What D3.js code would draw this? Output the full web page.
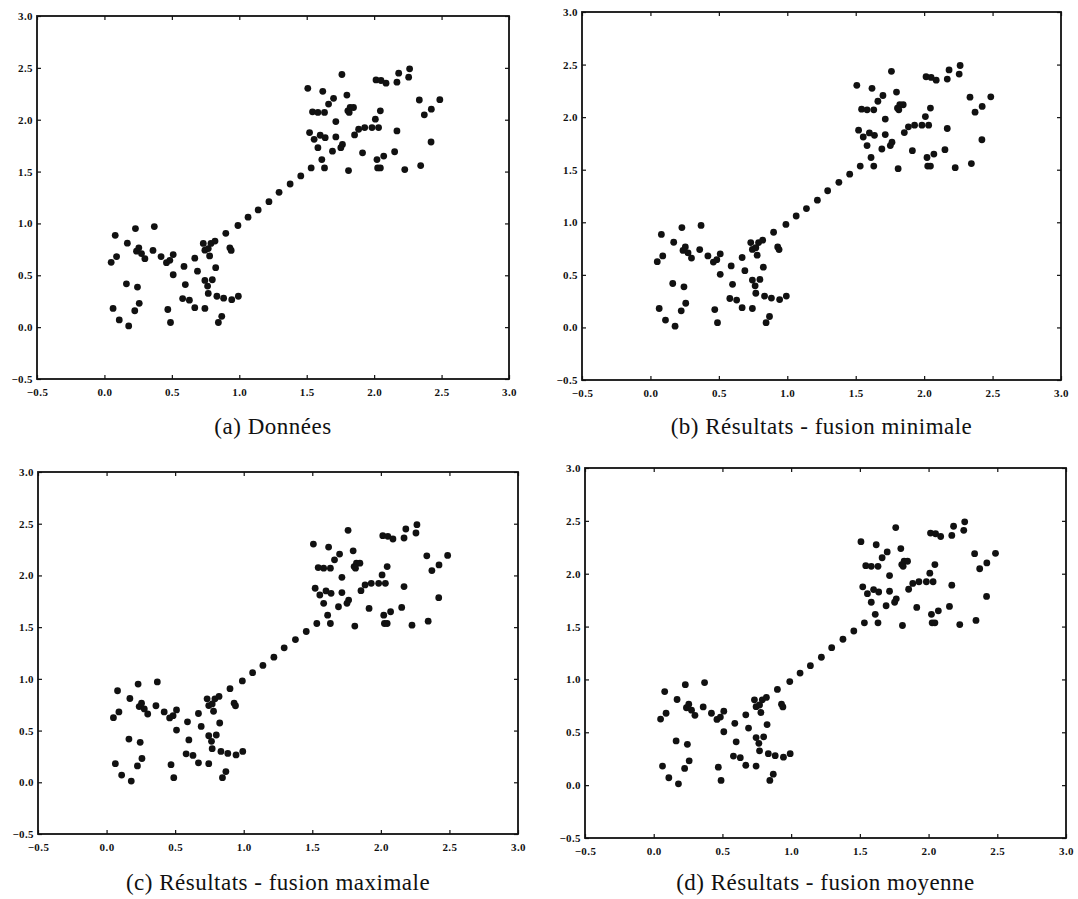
<!DOCTYPE html>
<html>
<head>
<meta charset="utf-8">
<script src="https://cdn.jsdelivr.net/npm/d3@7/dist/d3.min.js"></script>
<style>
  body { margin: 0; background: #fff; }
  svg { display: block; }
</style>
</head>
<body>
<svg id="fig" width="1078" height="899"></svg>
<script>
// lower-left blob
const clusterLow = [
  [0.05,0.625],[0.09,0.68],[0.08,0.885],[0.17,0.81],[0.23,0.95],[0.37,0.97],
  [0.238,0.732],[0.255,0.765],[0.275,0.709],[0.30,0.66],[0.36,0.74],[0.42,0.68],
  [0.46,0.622],[0.485,0.644],[0.51,0.70],[0.51,0.505],[0.59,0.585],[0.60,0.41],
  [0.58,0.275],[0.63,0.26],[0.67,0.665],[0.69,0.54],[0.67,0.188],[0.745,0.18],
  [0.733,0.807],[0.745,0.742],[0.77,0.758],[0.79,0.807],[0.82,0.83],[0.78,0.687],
  [0.745,0.45],[0.765,0.396],[0.80,0.457],[0.77,0.325],[0.825,0.573],[0.834,0.298],
  [0.884,0.279],[0.845,0.045],[0.87,0.104],[0.93,0.765],[0.94,0.74],[0.944,0.265],
  [0.993,0.298],[0.163,0.418],[0.245,0.386],[0.258,0.23],[0.225,0.158],[0.064,0.18],
  [0.11,0.07],[0.18,0.012],[0.47,0.17],[0.49,0.045]
];
// the chain of points joining the two blobs
const bridge = [
  [0.90,0.905],[0.99,0.98],[1.065,1.06],[1.14,1.13],[1.22,1.21],
  [1.295,1.30],[1.377,1.38],[1.456,1.458]
];
// upper-right blob
const clusterHigh = [
  [1.508,2.303],[1.761,2.436],[1.619,2.274],[1.699,2.206],[1.662,2.151],[1.798,2.238],
  [1.543,2.076],[1.583,2.07],[1.632,2.07],[1.716,1.982],[1.805,2.086],[1.822,2.118],
  [1.847,2.118],[1.815,2.07],[2.014,2.384],[2.051,2.378],[2.088,2.352],[2.169,2.362],
  [2.182,2.449],[2.256,2.41],[2.263,2.491],[2.335,2.19],[2.487,2.193],[2.372,2.047],
  [2.424,2.102],[2.009,2.005],[2.046,2.086],[1.521,1.876],[1.555,1.811],[1.60,1.85],
  [1.637,1.827],[1.583,1.73],[1.716,1.834],[1.765,1.762],[1.753,1.73],[1.691,1.697],
  [1.612,1.616],[1.533,1.535],[1.632,1.535],[1.81,1.51],[1.855,1.853],[1.885,1.908],
  [1.93,1.924],[1.984,1.924],[2.033,1.924],[1.914,1.681],[2.021,1.616],[2.071,1.649],
  [2.026,1.535],[2.046,1.535],[2.169,1.892],[2.152,1.691],[2.227,1.519],[2.345,1.558],
  [2.422,1.785]
];
const xTicks = [-0.5, 0.0, 0.5, 1.0, 1.5, 2.0, 2.5, 3.0];
const yTicks = [-0.5, 0.0, 0.5, 1.0, 1.5, 2.0, 2.5, 3.0];
const captions = ["(a) Données", "(b) Résultats - fusion minimale",
                  "(c) Résultats - fusion maximale", "(d) Résultats - fusion moyenne"];

const points = clusterLow.concat(bridge, clusterHigh);

// where each sub-figure sits on the page
const panels = [
  { left: 37,  right: 509,  top: 16,  bottom: 379, capY: 434 },
  { left: 582, right: 1061, top: 12,  bottom: 380, capY: 434 },
  { left: 38,  right: 518,  top: 472, bottom: 834, capY: 890 },
  { left: 585, right: 1066, top: 468, bottom: 838, capY: 890 }
];

const serif = '"Liberation Serif", "Times New Roman", Times, serif';
const svg = d3.select('#fig');
const fmt = d3.format('.1f');
const label = d => fmt(d).replace('-', '\u2212');

panels.forEach((p, i) => {
  const x = d3.scaleLinear().domain([-0.5, 3.0]).range([p.left, p.right]);
  const y = d3.scaleLinear().domain([-0.5, 3.0]).range([p.bottom, p.top]);
  const g = svg.append('g');

  // ticks point inward on every side (old matplotlib look)
  g.append('g').attr('transform', `translate(0,${p.bottom})`)
    .call(d3.axisBottom(x).tickValues(xTicks).tickFormat(label).tickSizeInner(-4).tickSizeOuter(0).tickPadding(9))
    .call(a => a.select('.domain').remove());
  g.append('g').attr('transform', `translate(${p.left},0)`)
    .call(d3.axisLeft(y).tickValues(yTicks).tickFormat(label).tickSizeInner(-4).tickSizeOuter(0).tickPadding(4))
    .call(a => a.select('.domain').remove());
  g.append('g').attr('transform', `translate(0,${p.top})`)
    .call(d3.axisTop(x).tickValues(xTicks).tickSizeInner(-4).tickSizeOuter(0))
    .call(a => { a.select('.domain').remove(); a.selectAll('text').remove(); });
  g.append('g').attr('transform', `translate(${p.right},0)`)
    .call(d3.axisRight(y).tickValues(yTicks).tickSizeInner(-4).tickSizeOuter(0))
    .call(a => { a.select('.domain').remove(); a.selectAll('text').remove(); });
  g.selectAll('.tick line').attr('stroke', '#111').attr('stroke-width', 1.2);
  g.selectAll('.tick text')
    .attr('font-family', serif).attr('font-weight', 'bold')
    .attr('font-size', 11).attr('letter-spacing', 0.4).attr('fill', '#111');

  g.append('rect')
    .attr('x', p.left).attr('y', p.top)
    .attr('width', p.right - p.left).attr('height', p.bottom - p.top)
    .attr('fill', 'none').attr('stroke', '#111').attr('stroke-width', 1.8);

  g.append('g').selectAll('circle')
    .data(points)
    .join('circle')
    .attr('cx', d => x(d[0]))
    .attr('cy', d => y(d[1]))
    .attr('r', 3.4)
    .attr('fill', '#111');

  g.append('text')
    .attr('x', (p.left + p.right) / 2)
    .attr('y', p.capY)
    .attr('text-anchor', 'middle')
    .attr('font-family', serif)
    .attr('font-size', 23)
    .attr('letter-spacing', 0.5)
    .attr('fill', '#111')
    .text(captions[i]);
});
</script>
</body>
</html>
